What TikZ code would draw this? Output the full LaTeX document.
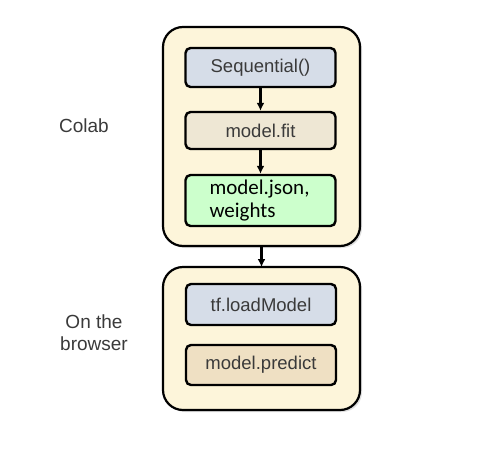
\documentclass[tikz,border=0pt]{standalone}
\usepackage{fontspec}
\setmainfont{Liberation Sans}
\newfontfamily\carlitofont{Carlito}
\usetikzlibrary{arrows.meta,shadows}
\definecolor{cream}{HTML}{FDF5DA}
\definecolor{bluegrey}{HTML}{D6DDE8}
\definecolor{beige}{HTML}{EEE7D4}
\definecolor{tan}{HTML}{EFE0C3}
\definecolor{mint}{HTML}{CCFFCC}
\definecolor{txt}{HTML}{3A3A3A}
\begin{document}
\begin{tikzpicture}[x=1pt,y=-1pt,
  outer/.style={draw=black,line width=2.2pt,fill=cream,rounded corners=20pt,
    drop shadow={shadow xshift=2pt,shadow yshift=-2pt,fill=black!25,opacity=0.5}},
  inner/.style={draw=black,line width=2.4pt,rounded corners=5pt,text=txt,font=\fontsize{18.5}{20}\selectfont},
  lbl/.style={text=txt,font=\fontsize{19}{22}\selectfont,align=center},
  arr/.style={-{Latex[length=8pt,width=8pt]},line width=2.2pt}]
\useasboundingbox (0,0) rectangle (502,452);
\path[outer] (163,27) rectangle (360,246);
\coordinate (colabB) at (261.5,246);
\path[outer] (163,267) rectangle (360,410);
\coordinate (browT) at (261.5,267);
\node[inner,fill=bluegrey,minimum width=150pt,minimum height=39pt] (seq) at (260.5,67.5) {Sequential()};
\node[inner,fill=beige,minimum width=150pt,minimum height=37pt] (fit) at (260.5,130.5) {model.fit};
\node[inner,fill=mint,minimum width=150pt,minimum height=51pt,text width=102pt,align=left,text=black,font=\carlitofont\fontsize{21}{23}\selectfont] (json) at (260.5,200.5) {model.json,\\weights};
\node[inner,fill=bluegrey,minimum width=150pt,minimum height=41pt] (load) at (261,304.5) {tf.loadModel};
\node[inner,fill=tan,minimum width=150pt,minimum height=40pt] (pred) at (261,365) {model.predict};
\draw[arr] (seq) -- (fit);
\draw[arr] (fit) -- (json);
\draw[arr] (colabB) -- (browT);
\node[lbl] (colab) at (84,126) {Colab};
\node[lbl] (brow) at (94,333) {On the\\browser};
\end{tikzpicture}
\end{document}
